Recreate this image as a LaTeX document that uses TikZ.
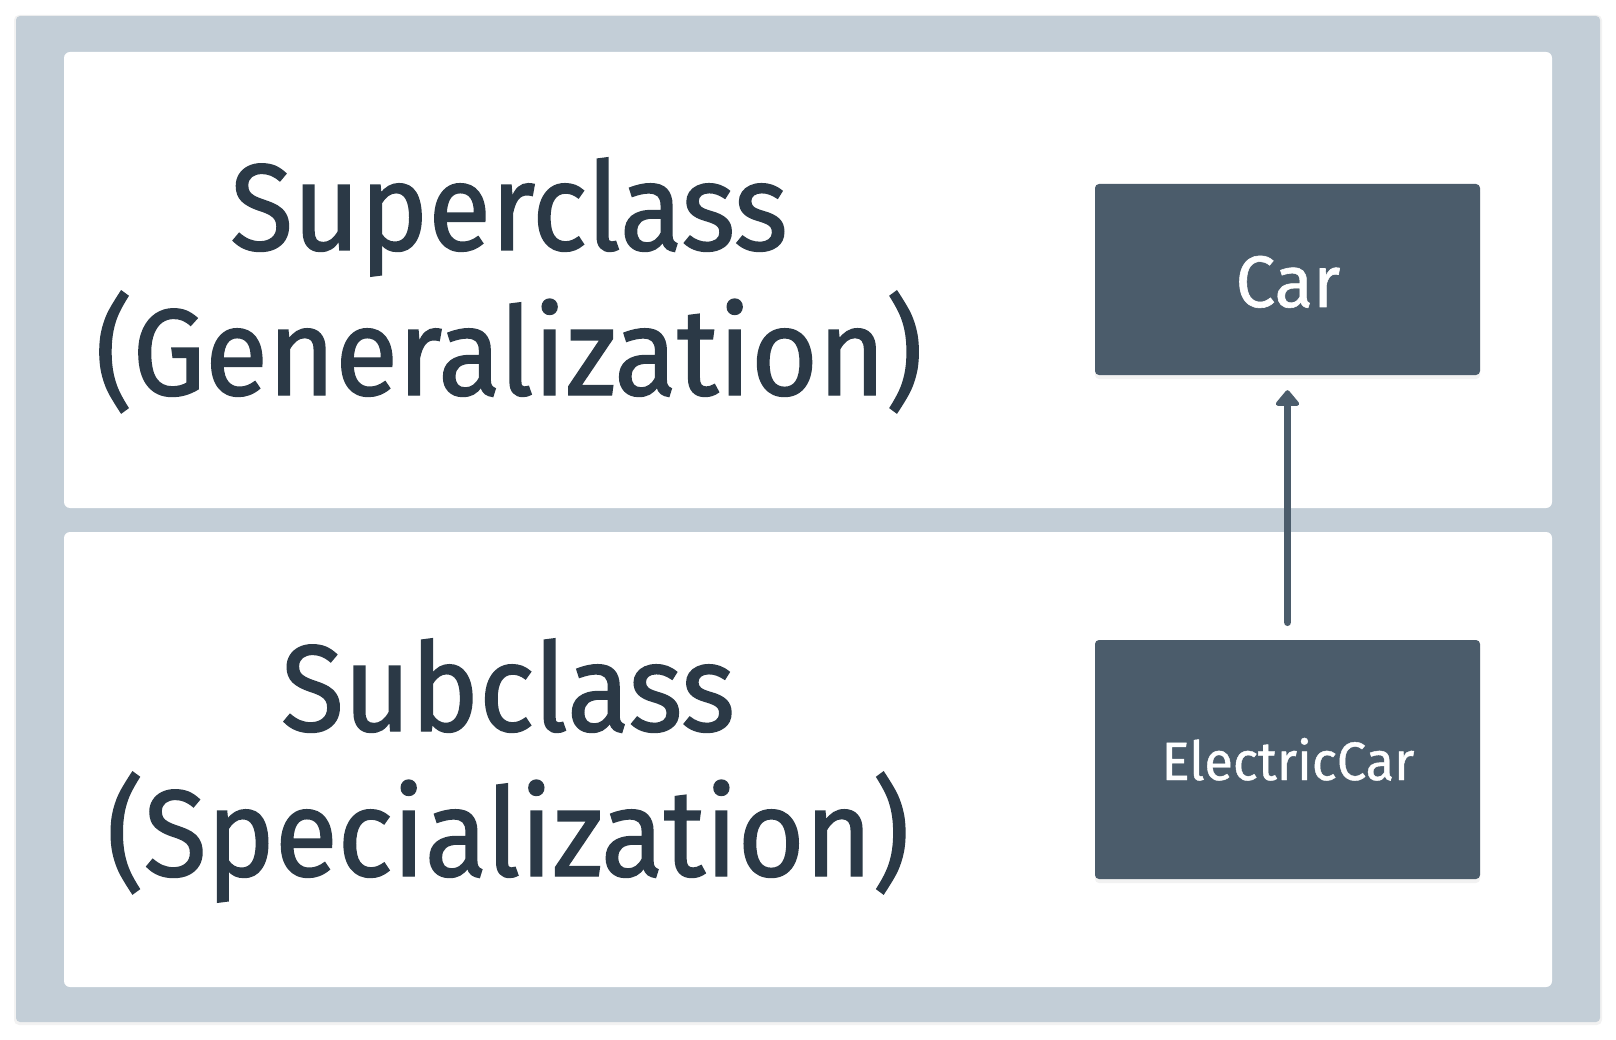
\documentclass[tikz,border=0pt]{standalone}
\usepackage{fontspec}
\setmainfont{Fira Sans}
\newfontfamily\bigfont{Fira Sans}[FakeStretch=0.935, FakeBold=1.2]
\newfontfamily\boxfont{Fira Sans}[FakeStretch=0.97, FakeBold=0.8]
\usetikzlibrary{arrows.meta,shadows}
\definecolor{frame}{HTML}{C3CED7}
\definecolor{boxfill}{HTML}{4B5C6B}
\definecolor{ink}{HTML}{2B3946}
\tikzset{
  panel/.style={fill=white, rounded corners=6pt},
  classbox/.style={fill=boxfill, rounded corners=4pt, minimum width=385pt, text=white,
    drop shadow={opacity=0.10, shadow xshift=0pt, shadow yshift=-4pt}},
  bigtext/.style={text=ink, font=\bigfont\fontsize{123}{145}\selectfont, anchor=base, inner sep=0pt},
  boxtext/.style={text=white, anchor=base, inner sep=0pt},
  inherit/.style={draw=boxfill, line width=7.5pt, line cap=round,
    -{Triangle[width=27pt,length=17pt,round]}}
}
\begin{document}
\begin{tikzpicture}[x=1pt,y=-1pt]
\useasboundingbox[fill=white] (0,0) rectangle (1616,1040);
\fill[black, opacity=0.05, rounded corners=5pt] (14,15) rectangle (1602,1025);
\fill[frame, rounded corners=4pt] (16,16) rectangle (1600,1022);
\fill[panel] (64,52) rectangle (1552,508);
\fill[panel] (64,532) rectangle (1552,987);
\node[classbox, minimum height=191pt] (car) at (1287.5,279.5) {};
\node[classbox, minimum height=239pt] (ec) at (1287.5,759.5) {};
\node[boxtext, font=\boxfont\fontsize{73}{80}\selectfont] (cart) at (1288,307) {Car};
\node[boxtext, font=\boxfont\fontsize{54}{60}\selectfont] (ect) at (1288,780) {ElectricCar};
\draw[inherit, shorten <=17.5pt, shorten >=15pt] (ec.north) -- (car.south);
\node[bigtext] (sup1) at (509,250) {Superclass};
\node[bigtext] (sup2) at (509,395) {(Generalization)};
\node[bigtext] (sub1) at (508,731) {Subclass};
\node[bigtext] (sub2) at (508,876) {(Specialization)};
\end{tikzpicture}
\end{document}
